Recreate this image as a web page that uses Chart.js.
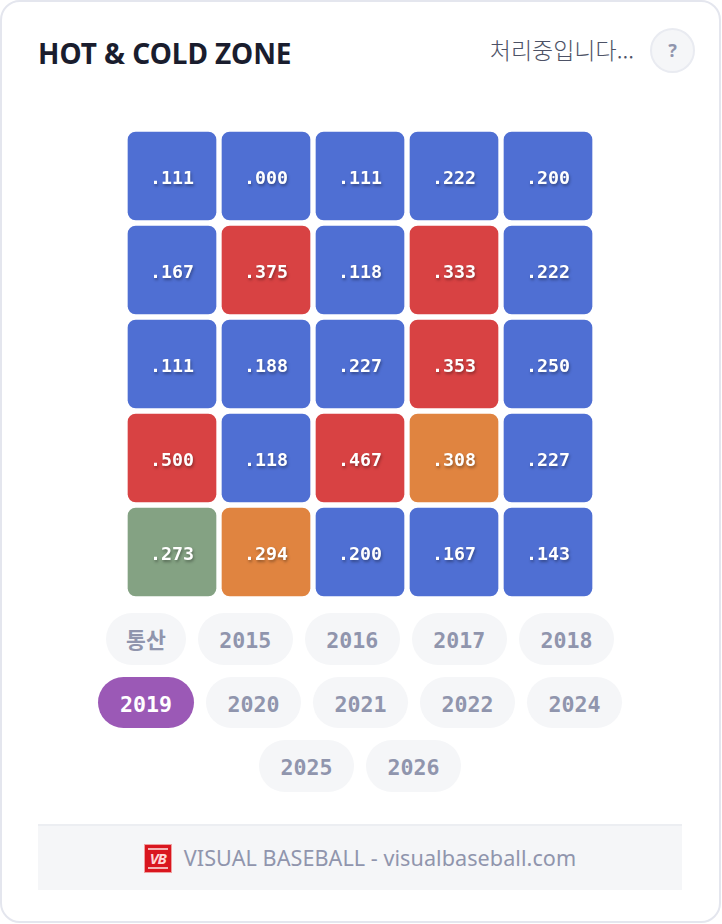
<!DOCTYPE html>
<html lang="ko"><head><meta charset="utf-8">
<script src="https://cdn.jsdelivr.net/npm/chart.js@4"></script>
<style>
html,body{margin:0;padding:0;background:#fff}
#card{position:absolute;left:0;top:0;width:717px;height:919px;border:2px solid #e4e6ee;border-radius:20px;background:#fff;overflow:hidden}
#title{position:absolute;left:36px;top:32px;font:700 28px/38px "Noto Sans","Noto Sans CJK KR",sans-serif;color:#1a1d2e;letter-spacing:-0.03px;white-space:nowrap}
#status{position:absolute;right:85px;top:30px;font:300 23px/34px "Noto Sans CJK KR",sans-serif;color:#4d5266;white-space:nowrap}
#help{position:absolute;left:648px;top:26px;width:41px;height:41px;border:2px solid #e9ebf1;border-radius:50%;background:#f5f6f8;color:#9095ad;font:700 18px/41px "Noto Sans",sans-serif;text-align:center}
#wrap{position:absolute;left:123px;top:127px;width:470px;height:470px}
#years{position:absolute;left:88px;top:611px;width:540px;display:flex;flex-wrap:wrap;justify-content:center;gap:12px}
.y{box-sizing:border-box;height:51.5px;padding:0 21.5px;border-radius:26px;background:#f5f6f8;color:#9095ad;font:700 21.6px/55px "DejaVu Sans Mono","Noto Sans CJK KR",monospace}
.y.k{font-family:"Noto Sans CJK KR",sans-serif;line-height:52px;padding:0 20px}
.y.on{background:#9b59b6;color:#fff;padding:0 22px}
#foot{position:absolute;left:36px;top:822px;width:644px;height:64px;border-top:2px solid #eceef2;background:#f5f6f8;display:flex;align-items:center;justify-content:center;gap:12px;color:#9095ad;font:400 21.6px/30px "Noto Sans",sans-serif;white-space:nowrap}
#foot span:last-child{letter-spacing:0.05px}
#logo{box-sizing:border-box;width:28px;height:29px;background:#d9161f;border:1px solid #f0a0a0;color:#ffd7d7;position:relative;font:italic 700 15px/27px "Noto Sans",sans-serif;text-align:center;letter-spacing:-1px}
#logo:before,#logo:after{content:"";position:absolute;left:3px;right:3px;height:2px;background:#f4b4b4}
#logo:before{top:3px}#logo:after{bottom:3px}
</style></head><body>
<div id="card">
  <div id="title">HOT &amp; COLD ZONE</div>
  <div id="status">처리중입니다...</div>
  <div id="help">?</div>
  <div id="wrap"><canvas id="c" width="470" height="470"></canvas></div>
  <div id="years"></div>
  <div id="foot"><span id="logo">VB</span><span>VISUAL BASEBALL - visualbaseball.com</span></div>
</div>
<script>
const columns = ["1","2","3","4","5"];
const row1 = [0.111,0.000,0.111,0.222,0.200];
const row2 = [0.167,0.375,0.118,0.333,0.222];
const row3 = [0.111,0.188,0.227,0.353,0.250];
const row4 = [0.500,0.118,0.467,0.308,0.227];
const row5 = [0.273,0.294,0.200,0.167,0.143];
const rows = [row1,row2,row3,row4,row5];
const yearLabels = ["통산","2015","2016","2017","2018","2019","2020","2021","2022","2024","2025","2026"];
const activeYear = "2019";

const BLUE="#4f6fd3", GREEN="#84a283", ORANGE="#e08440", RED="#d84243";
const zoneColor = v => v>=0.33 ? RED : v>=0.28 ? ORANGE : v>=0.26 ? GREEN : BLUE;
const fmt = v => v.toFixed(3).replace(/^0/,"");

const yearsEl=document.getElementById("years");
yearLabels.forEach(t=>{const d=document.createElement("div");
  d.className="y"+(t===activeYear?" on":"")+(/\d/.test(t)?"":" k");d.textContent=t;yearsEl.appendChild(d);});

const cellLabels={id:"cellLabels",afterDatasetsDraw(chart){
  const ctx=chart.ctx;
  chart.data.datasets.forEach((ds,i)=>{
    chart.getDatasetMeta(i).data.forEach((el,j)=>{
      const p=el.getProps(["x","y","base"],true);
      ctx.save();
      ctx.font='700 18.3px "DejaVu Sans Mono",monospace';
      ctx.textAlign="center";ctx.textBaseline="middle";ctx.fillStyle="#fff";
      ctx.shadowColor="rgba(0,0,0,0.35)";ctx.shadowBlur=3;ctx.shadowOffsetX=1;ctx.shadowOffsetY=2;
      ctx.fillText(fmt(ds.values[j]),p.x,(p.y+p.base)/2+3);
      ctx.restore();
    });
  });
}};

new Chart(document.getElementById("c"),{
  type:"bar",
  data:{labels:columns,datasets:rows.map((r,i)=>({
    label:"row "+(i+1),
    values:r,
    data:r.map(()=>[i,i+1]),
    backgroundColor:r.map(zoneColor),
    borderColor:"#ffffff",borderWidth:3,borderRadius:11,borderSkipped:false,
    barPercentage:1,categoryPercentage:1,grouped:false
  }))},
  options:{
    responsive:false,animation:false,
    layout:{padding:0},
    plugins:{legend:{display:false},tooltip:{enabled:false}},
    scales:{
      x:{display:false,offset:true,grid:{display:false}},
      y:{display:false,reverse:true,min:0,max:5,grid:{display:false}}
    }
  },
  plugins:[cellLabels]
});
</script>
</body></html>
